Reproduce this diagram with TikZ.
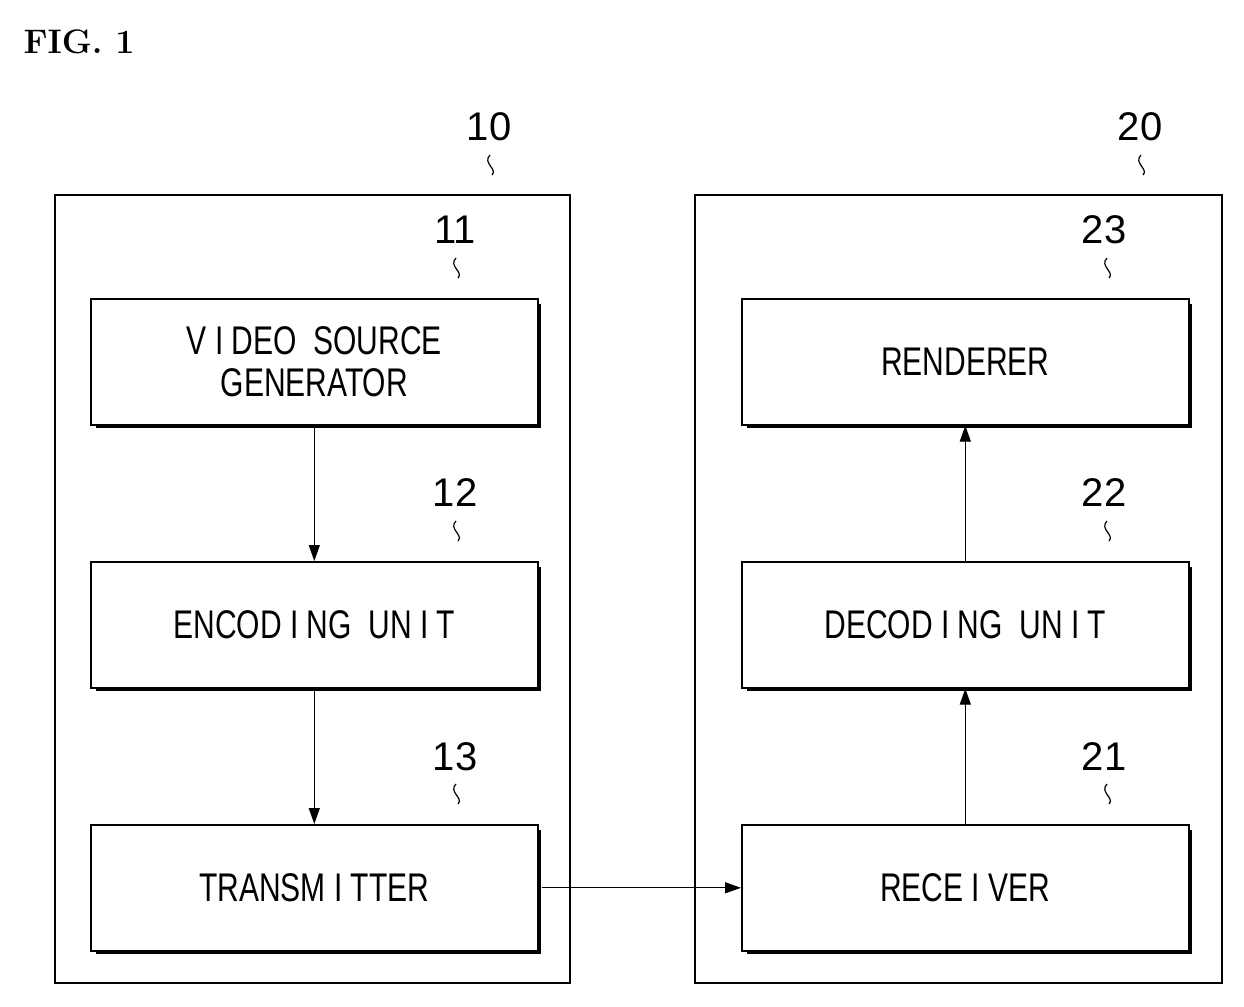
\documentclass[tikz,border=0pt]{standalone}
\usepackage{fontspec}
\setsansfont{Liberation Sans}
\usetikzlibrary{arrows.meta}
\begin{document}
\begin{tikzpicture}[x=1pt,y=-1pt,
 blk/.style={draw,line width=1.6pt,fill=white,inner sep=0pt,minimum width=447pt,minimum height=126pt,align=center,font=\sffamily\fontsize{40}{46}\selectfont},
 outer/.style={draw,line width=1.6pt},
 num/.style={font=\sffamily\fontsize{40}{40}\selectfont},
 arr/.style={-{Triangle[length=16pt,width=11pt]},line width=1.2pt},
 lead/.style={line width=1.2pt}]
\useasboundingbox (0,0) rectangle (1244,1006);
\node[font=\bfseries\fontsize{34}{34}\selectfont,anchor=west] (fig) at (20,42) {FIG. 1};
\draw[outer] (55,195) rectangle (570,983);
\draw[outer] (695,195) rectangle (1222,983);
\node[num] (n10) at (489,127) {10};
\node[num] (n20) at (1140,127) {20};
\foreach \c/\x/\y in {a/90/298,b/90/561,c/90/824,d/741/298,e/741/561,f/741/824}{
 \draw[line width=3pt] (\x+447+2,\y+6) -- (\x+447+2,\y+126+2) -- (\x+6,\y+126+2);}
\node[blk,anchor=north west] (v) at (90,298) {\scalebox{0.75}[1]{V I DEO\ \ SOURCE}\\[-4pt]\scalebox{0.75}[1]{GENERATOR}};
\node[blk,anchor=north west] (enc) at (90,561) {\scalebox{0.75}[1]{ENCOD I NG\ \ UN I T}};
\node[blk,anchor=north west] (tx) at (90,824) {\scalebox{0.75}[1]{TRANSM I TTER}};
\node[blk,anchor=north west] (ren) at (741,298) {\scalebox{0.75}[1]{RENDERER}};
\node[blk,anchor=north west] (dec) at (741,561) {\scalebox{0.75}[1]{DECOD I NG\ \ UN I T}};
\node[blk,anchor=north west] (rx) at (741,824) {\scalebox{0.75}[1]{RECE I VER}};
\node[num] (n11) at (455,230) {11};
\node[num] (n12) at (455,493) {12};
\node[num] (n13) at (455,757) {13};
\node[num] (n23) at (1104,230) {23};
\node[num] (n22) at (1104,493) {22};
\node[num] (n21) at (1104,757) {21};
\foreach \x/\y in {490/175,1141/175,456/278,456/541,456/804,1107/278,1107/541,1107/804}{
 \draw[lead] (\x,\y-20) .. controls (\x-8,\y-12) and (\x+8,\y-6) .. (\x+2,\y);}
\draw[arr] (v.south) -- (enc.north);
\draw[arr] (enc.south) -- (tx.north);
\draw[arr] (tx.east) ++(3,0) coordinate (t0) (t0) -- (rx.west);
\draw[arr] (rx.north) -- (dec.south);
\draw[arr] (dec.north) -- (ren.south);
\end{tikzpicture}
\end{document}
